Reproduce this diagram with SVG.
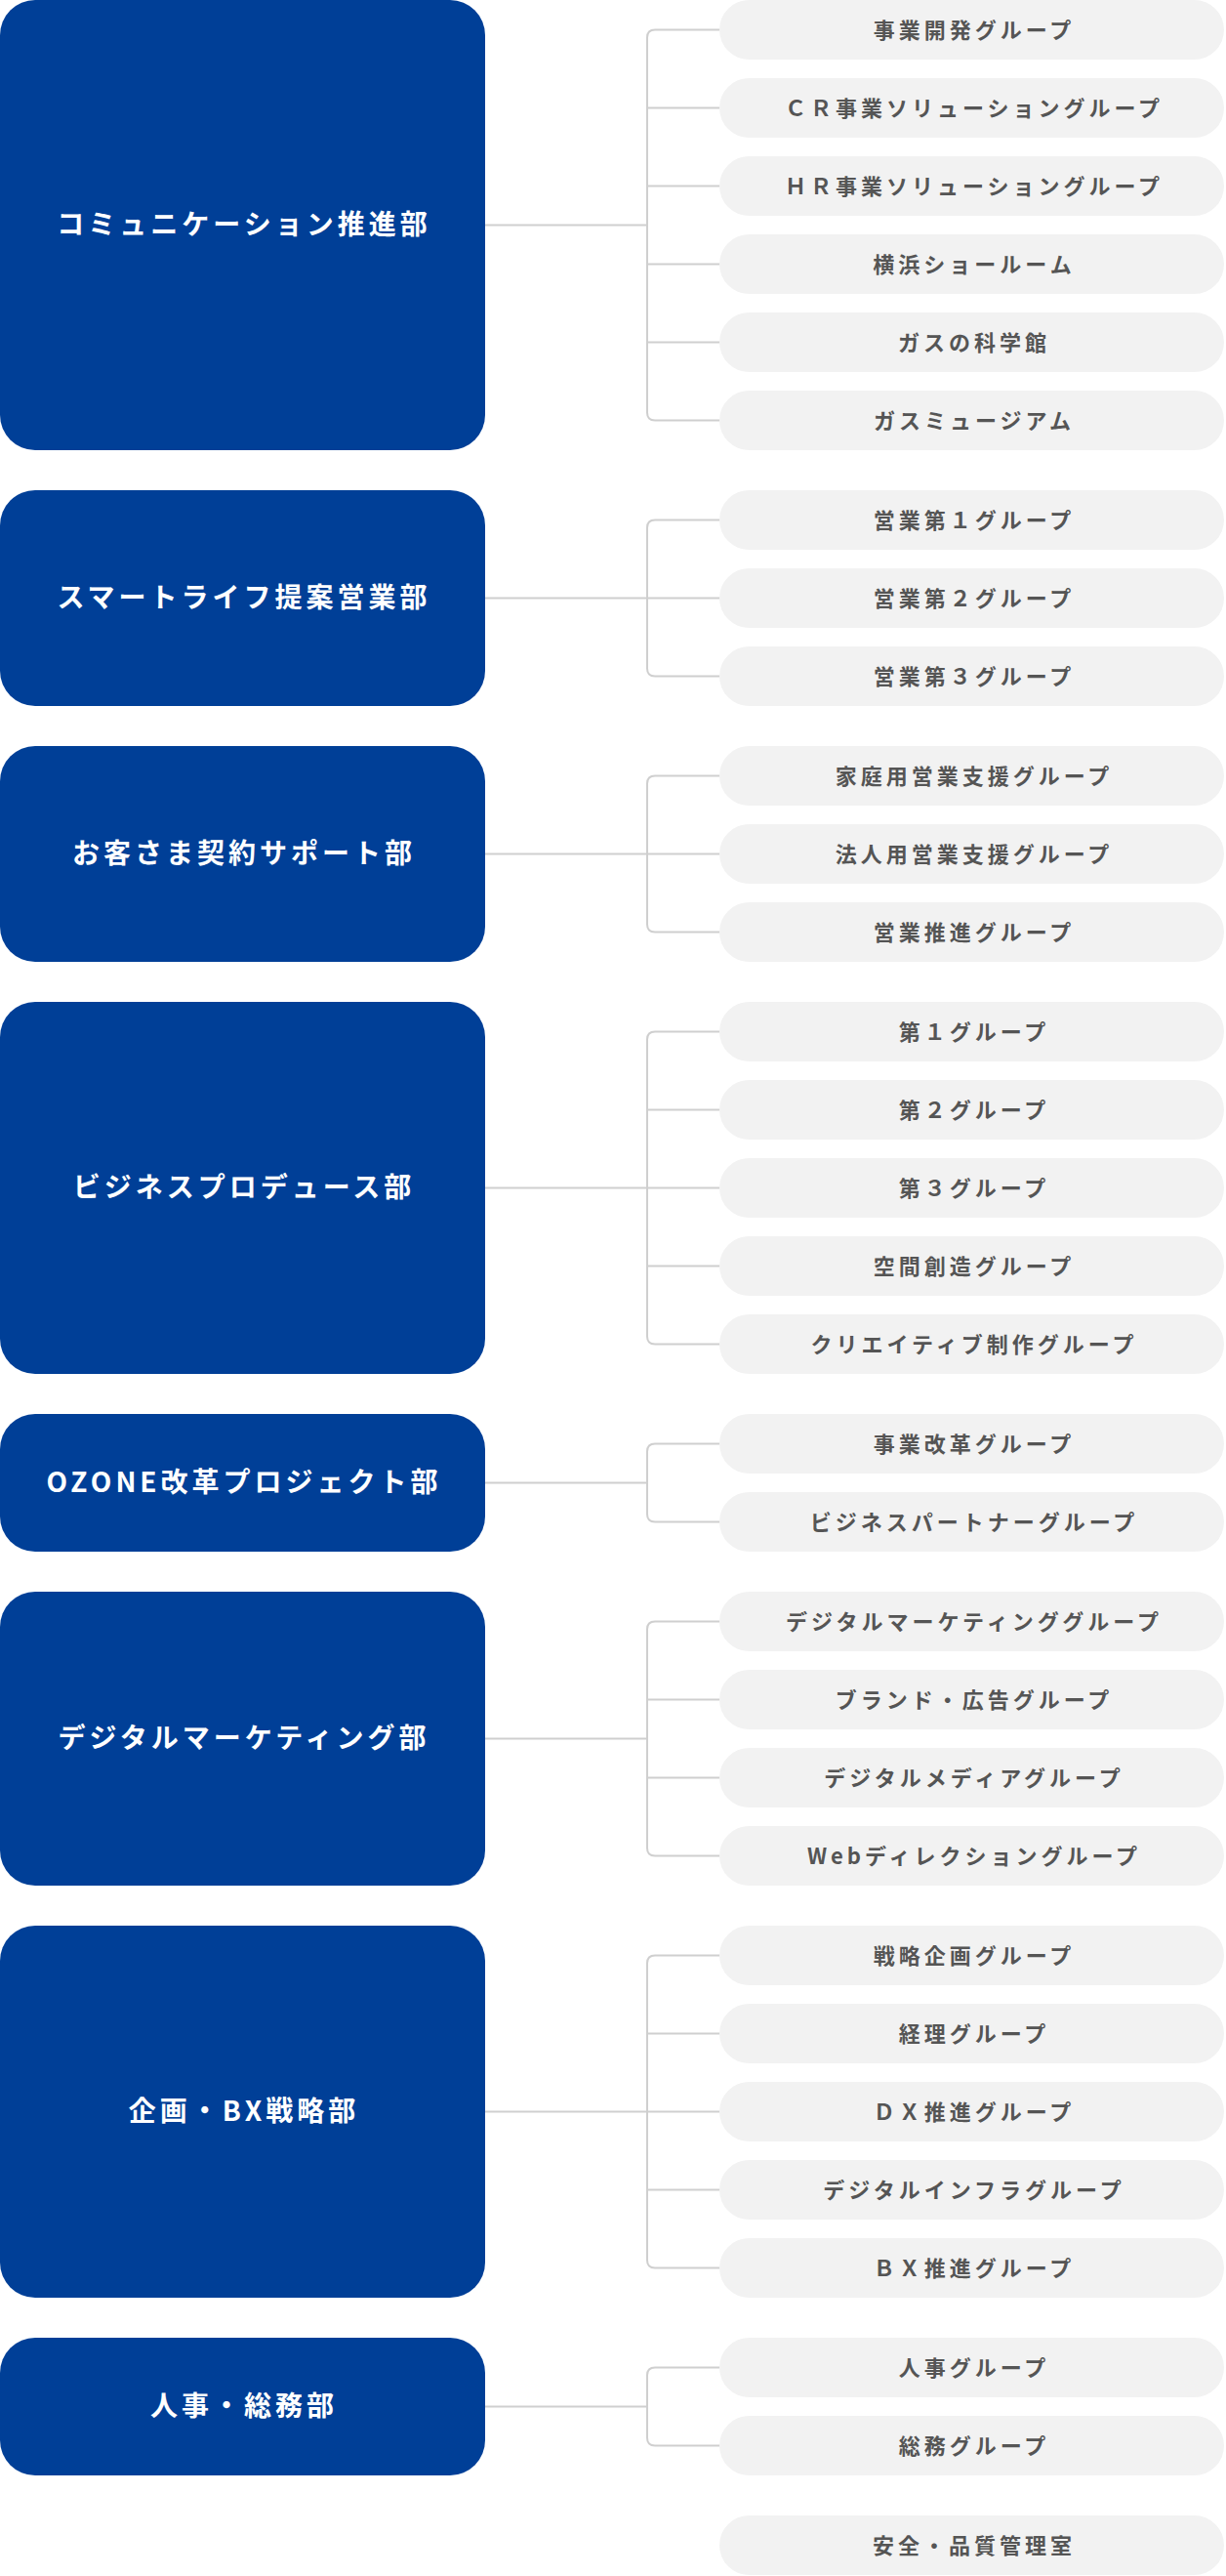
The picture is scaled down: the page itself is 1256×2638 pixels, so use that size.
<svg xmlns="http://www.w3.org/2000/svg" width="1256" height="2638" viewBox="0 0 1256 2638">
<style>
.b{fill:#003f97}
.p{fill:#f2f2f2}
.bt{fill:#fff;font-family:"Noto Sans CJK JP","Noto Sans",sans-serif;font-size:28px;font-weight:700;letter-spacing:4px;text-anchor:middle}
.pt{fill:#555;font-family:"Noto Sans CJK JP","Noto Sans",sans-serif;font-size:22px;font-weight:700;letter-spacing:4px;text-anchor:middle}
.c{fill:none;stroke:#cfcfcf;stroke-width:2}
</style>
<rect width="1256" height="2638" fill="#fff"/>
<g id="connectors" class="c">
<path d="M497,230.5H663M737,30.5H671Q663,30.5 663,38.5V422.5Q663,430.5 671,430.5H737M663,110.5H737M663,190.5H737M663,270.5H737M663,350.5H737"/>
<path d="M497,612.5H663M737,532.5H671Q663,532.5 663,540.5V684.5Q663,692.5 671,692.5H737M663,612.5H737"/>
<path d="M497,874.5H663M737,794.5H671Q663,794.5 663,802.5V946.5Q663,954.5 671,954.5H737M663,874.5H737"/>
<path d="M497,1216.5H663M737,1056.5H671Q663,1056.5 663,1064.5V1368.5Q663,1376.5 671,1376.5H737M663,1136.5H737M663,1216.5H737M663,1296.5H737"/>
<path d="M497,1518.5H663M737,1478.5H671Q663,1478.5 663,1486.5V1550.5Q663,1558.5 671,1558.5H737"/>
<path d="M497,1780.5H663M737,1660.5H671Q663,1660.5 663,1668.5V1892.5Q663,1900.5 671,1900.5H737M663,1740.5H737M663,1820.5H737"/>
<path d="M497,2162.5H663M737,2002.5H671Q663,2002.5 663,2010.5V2314.5Q663,2322.5 671,2322.5H737M663,2082.5H737M663,2162.5H737M663,2242.5H737"/>
<path d="M497,2464.5H663M737,2424.5H671Q663,2424.5 663,2432.5V2496.5Q663,2504.5 671,2504.5H737"/>
</g>
<g id="d1"><rect class="b" x="0" y="0" width="497" height="461" rx="36"/><text class="bt" x="250" y="240">コミュニケーション推進部</text></g>
<g id="d2"><rect class="b" x="0" y="502" width="497" height="221" rx="36"/><text class="bt" x="250" y="622">スマートライフ提案営業部</text></g>
<g id="d3"><rect class="b" x="0" y="764" width="497" height="221" rx="36"/><text class="bt" x="250" y="884">お客さま契約サポート部</text></g>
<g id="d4"><rect class="b" x="0" y="1026" width="497" height="381" rx="36"/><text class="bt" x="250" y="1226">ビジネスプロデュース部</text></g>
<g id="d5"><rect class="b" x="0" y="1448" width="497" height="141" rx="36"/><text class="bt" x="250" y="1528">OZONE改革プロジェクト部</text></g>
<g id="d6"><rect class="b" x="0" y="1630" width="497" height="301" rx="36"/><text class="bt" x="250" y="1790">デジタルマーケティング部</text></g>
<g id="d7"><rect class="b" x="0" y="1972" width="497" height="381" rx="36"/><text class="bt" x="250" y="2172">企画・BX戦略部</text></g>
<g id="d8"><rect class="b" x="0" y="2394" width="497" height="141" rx="36"/><text class="bt" x="250" y="2474">人事・総務部</text></g>
<g id="g1"><rect class="p" x="737" y="0" width="517" height="61" rx="30.5"/><text class="pt" x="998" y="38.5">事業開発グループ</text></g>
<g id="g2"><rect class="p" x="737" y="80" width="517" height="61" rx="30.5"/><text class="pt" x="998" y="118.5">ＣＲ事業ソリューショングループ</text></g>
<g id="g3"><rect class="p" x="737" y="160" width="517" height="61" rx="30.5"/><text class="pt" x="998" y="198.5">ＨＲ事業ソリューショングループ</text></g>
<g id="g4"><rect class="p" x="737" y="240" width="517" height="61" rx="30.5"/><text class="pt" x="998" y="278.5">横浜ショールーム</text></g>
<g id="g5"><rect class="p" x="737" y="320" width="517" height="61" rx="30.5"/><text class="pt" x="998" y="358.5">ガスの科学館</text></g>
<g id="g6"><rect class="p" x="737" y="400" width="517" height="61" rx="30.5"/><text class="pt" x="998" y="438.5">ガスミュージアム</text></g>
<g id="g7"><rect class="p" x="737" y="502" width="517" height="61" rx="30.5"/><text class="pt" x="998" y="540.5">営業第１グループ</text></g>
<g id="g8"><rect class="p" x="737" y="582" width="517" height="61" rx="30.5"/><text class="pt" x="998" y="620.5">営業第２グループ</text></g>
<g id="g9"><rect class="p" x="737" y="662" width="517" height="61" rx="30.5"/><text class="pt" x="998" y="700.5">営業第３グループ</text></g>
<g id="g10"><rect class="p" x="737" y="764" width="517" height="61" rx="30.5"/><text class="pt" x="998" y="802.5">家庭用営業支援グループ</text></g>
<g id="g11"><rect class="p" x="737" y="844" width="517" height="61" rx="30.5"/><text class="pt" x="998" y="882.5">法人用営業支援グループ</text></g>
<g id="g12"><rect class="p" x="737" y="924" width="517" height="61" rx="30.5"/><text class="pt" x="998" y="962.5">営業推進グループ</text></g>
<g id="g13"><rect class="p" x="737" y="1026" width="517" height="61" rx="30.5"/><text class="pt" x="998" y="1064.5">第１グループ</text></g>
<g id="g14"><rect class="p" x="737" y="1106" width="517" height="61" rx="30.5"/><text class="pt" x="998" y="1144.5">第２グループ</text></g>
<g id="g15"><rect class="p" x="737" y="1186" width="517" height="61" rx="30.5"/><text class="pt" x="998" y="1224.5">第３グループ</text></g>
<g id="g16"><rect class="p" x="737" y="1266" width="517" height="61" rx="30.5"/><text class="pt" x="998" y="1304.5">空間創造グループ</text></g>
<g id="g17"><rect class="p" x="737" y="1346" width="517" height="61" rx="30.5"/><text class="pt" x="998" y="1384.5">クリエイティブ制作グループ</text></g>
<g id="g18"><rect class="p" x="737" y="1448" width="517" height="61" rx="30.5"/><text class="pt" x="998" y="1486.5">事業改革グループ</text></g>
<g id="g19"><rect class="p" x="737" y="1528" width="517" height="61" rx="30.5"/><text class="pt" x="998" y="1566.5">ビジネスパートナーグループ</text></g>
<g id="g20"><rect class="p" x="737" y="1630" width="517" height="61" rx="30.5"/><text class="pt" x="998" y="1668.5">デジタルマーケティンググループ</text></g>
<g id="g21"><rect class="p" x="737" y="1710" width="517" height="61" rx="30.5"/><text class="pt" x="998" y="1748.5">ブランド・広告グループ</text></g>
<g id="g22"><rect class="p" x="737" y="1790" width="517" height="61" rx="30.5"/><text class="pt" x="998" y="1828.5">デジタルメディアグループ</text></g>
<g id="g23"><rect class="p" x="737" y="1870" width="517" height="61" rx="30.5"/><text class="pt" x="998" y="1908.5">Webディレクショングループ</text></g>
<g id="g24"><rect class="p" x="737" y="1972" width="517" height="61" rx="30.5"/><text class="pt" x="998" y="2010.5">戦略企画グループ</text></g>
<g id="g25"><rect class="p" x="737" y="2052" width="517" height="61" rx="30.5"/><text class="pt" x="998" y="2090.5">経理グループ</text></g>
<g id="g26"><rect class="p" x="737" y="2132" width="517" height="61" rx="30.5"/><text class="pt" x="998" y="2170.5">ＤＸ推進グループ</text></g>
<g id="g27"><rect class="p" x="737" y="2212" width="517" height="61" rx="30.5"/><text class="pt" x="998" y="2250.5">デジタルインフラグループ</text></g>
<g id="g28"><rect class="p" x="737" y="2292" width="517" height="61" rx="30.5"/><text class="pt" x="998" y="2330.5">ＢＸ推進グループ</text></g>
<g id="g29"><rect class="p" x="737" y="2394" width="517" height="61" rx="30.5"/><text class="pt" x="998" y="2432.5">人事グループ</text></g>
<g id="g30"><rect class="p" x="737" y="2474" width="517" height="61" rx="30.5"/><text class="pt" x="998" y="2512.5">総務グループ</text></g>
<g id="g31"><rect class="p" x="737" y="2576" width="517" height="61" rx="30.5"/><text class="pt" x="998" y="2614.5">安全・品質管理室</text></g>
</svg>
